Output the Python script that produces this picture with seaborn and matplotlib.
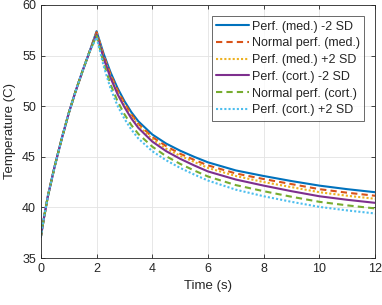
import pandas as pd
import seaborn as sns
import matplotlib.pyplot as plt


# ============================
# Data
# ============================

time_s = [0, 0.1, 0.25, 0.5, 0.75, 1.0, 1.25, 1.5, 1.75,
          2.0, 2.25, 2.5, 2.75, 3, 3.25, 3.5, 4, 4.5, 5, 5.5, 6, 7, 8, 9, 10, 11, 12]

heating = [37.1, 38.8, 41.1, 44.1, 46.8, 49.3, 51.5, 53.5, 55.4]

med_minus = heating + [57.4, 55.2, 53.35, 51.8, 50.5, 49.4, 48.5, 47.2, 46.3,
                       45.6, 45.0, 44.45, 43.65, 43.1, 42.6, 42.15, 41.8, 41.5]
med_normal = heating + [57.3, 55.05, 53.15, 51.6, 50.3, 49.18, 48.25, 46.95, 46.05,
                        45.3, 44.7, 44.15, 43.35, 42.8, 42.3, 41.8, 41.45, 41.15]
med_plus = heating + [57.25, 54.9, 53.0, 51.4, 50.1, 49.0, 48.1, 46.75, 45.8,
                      45.1, 44.5, 43.9, 43.1, 42.5, 42.0, 41.5, 41.15, 40.85]
cort_minus = heating + [57.1, 54.75, 52.8, 51.2, 49.9, 48.78, 47.85, 46.5, 45.55,
                        44.8, 44.15, 43.55, 42.75, 42.15, 41.6, 41.1, 40.75, 40.45]
cort_normal = heating + [56.95, 54.3, 52.15, 50.5, 49.2, 48.12, 47.25, 46.0, 45.05,
                         44.3, 43.65, 43.05, 42.2, 41.6, 41.05, 40.55, 40.2, 39.9]
cort_plus = heating + [56.8, 54.0, 51.75, 50.05, 48.75, 47.68, 46.8, 45.55, 44.65,
                       43.9, 43.25, 42.65, 41.75, 41.1, 40.55, 40.05, 39.7, 39.4]

labels = [
    "Perf. (med.) -2 SD",
    "Normal perf. (med.)",
    "Perf. (med.) +2 SD",
    "Perf. (cort.) -2 SD",
    "Normal perf. (cort.)",
    "Perf. (cort.) +2 SD",
]
series = [med_minus, med_normal, med_plus, cort_minus, cort_normal, cort_plus]

colors = ["#0072BD", "#D95319", "#EDB120", "#7E2F8E", "#77AC30", "#4DBEEE"]
dash_styles = ["", (3, 2), (1, 1), "", (3, 2), (1, 1)]

df = pd.concat(
    [pd.DataFrame({"Time": time_s, "Temperature": v, "Case": lab})
     for lab, v in zip(labels, series)],
    ignore_index=True
)


# ============================
# Plot
# ============================

sns.set_style("white")
plt.rcParams["font.family"] = ["Liberation Sans", "DejaVu Sans"]
plt.rcParams["font.size"] = 9

fig, ax = plt.subplots(figsize=(3.82, 3.05), dpi=100)
fig.subplots_adjust(left=0.107, right=0.982, top=0.984, bottom=0.154)

sns.lineplot(
    data=df,
    x="Time",
    y="Temperature",
    hue="Case",
    style="Case",
    hue_order=labels,
    style_order=labels,
    palette=dict(zip(labels, colors)),
    dashes=dict(zip(labels, dash_styles)),
    linewidth=1.5,
    ax=ax
)

ax.set_xlim(0, 12)
ax.set_ylim(35, 60)
ax.set_xticks(range(0, 13, 2))
ax.set_yticks(range(35, 61, 5))
ax.grid(True, color="#e3e3e3", linewidth=0.6)
ax.set_axisbelow(True)

for sp in ax.spines.values():
    sp.set_color("#262626")
    sp.set_linewidth(0.6)
ax.tick_params(direction="in", length=3, width=0.6, colors="#262626",
               labelsize=9, top=True, right=True, bottom=True, left=True)

ax.set_xlabel("Time (s)", fontsize=9.5, color="#262626")
ax.set_ylabel("Temperature (C)", fontsize=9.5, color="#262626")

leg = ax.legend(
    loc="upper right",
    bbox_to_anchor=(0.975, 0.965),
    fontsize=9,
    frameon=True,
    fancybox=False,
    handlelength=2.6,
    handletextpad=0.25,
    labelspacing=0.38,
    borderpad=0.35,
    borderaxespad=0.2
)
leg.get_frame().set_edgecolor("#262626")
leg.get_frame().set_linewidth(0.6)

fig.savefig("out.png", dpi=100)
